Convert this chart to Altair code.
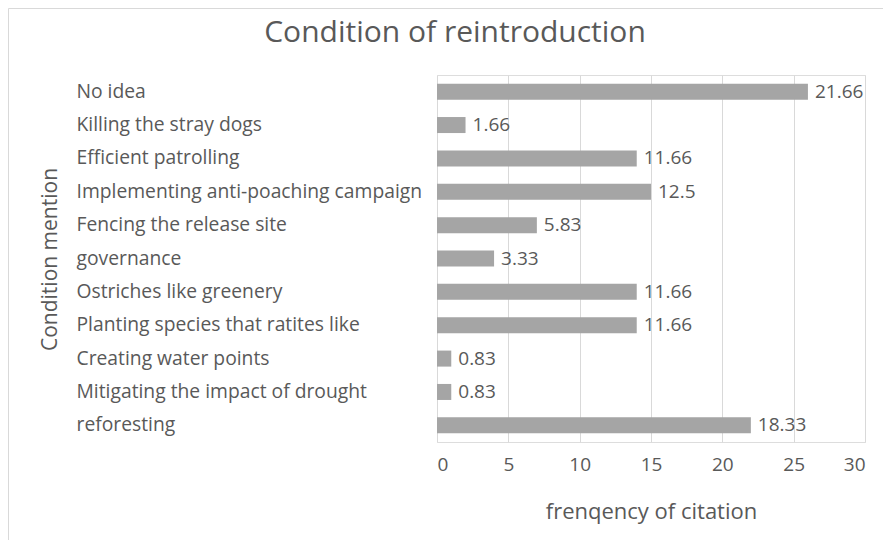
import altair as alt
import pandas as pd

categories = [
    "No idea",
    "Killing the stray dogs",
    "Efficient patrolling",
    "Implementing anti-poaching campaign",
    "Fencing the release site",
    "governance",
    "Ostriches like greenery",
    "Planting species that ratites like",
    "Creating water points",
    "Mitigating the impact of drought",
    "reforesting",
]
counts = [26, 2, 14, 15, 7, 4, 14, 14, 1, 1, 22]
labels = ["21.66", "1.66", "11.66", "12.5", "5.83", "3.33", "11.66", "11.66", "0.83", "0.83", "18.33"]
x_ticks = [0, 5, 10, 15, 20, 25, 30]

df = pd.DataFrame({"cat": categories, "count": counts, "label": labels})

FONT = "Open Sans"
GRAY = "#595959"
W, H = 428, 367
PL, PT, PR, PB = 429, 67, 18, 98

y_enc = alt.Y(
    "cat:N",
    sort=categories,
    scale=alt.Scale(paddingInner=0.52, paddingOuter=0.26),
    axis=alt.Axis(
        title="Condition mention",
        labelAlign="left",
        labelPadding=361,
        labelFont=FONT,
        labelFontSize=19.3,
        labelColor=GRAY,
        labelLimit=420,
        ticks=False,
        domain=False,
        titleFont=FONT,
        titleFontSize=21,
        titleFontWeight="normal",
        titleColor=GRAY,
        titleAngle=270,
        titleAlign="center",
        titleBaseline="middle",
        titleX=-387,
        titleY=184,
    ),
)

x_enc = alt.X(
    "count:Q",
    scale=alt.Scale(domain=[0, 30], nice=False),
    axis=alt.Axis(
        title="frenqency of citation",
        values=x_ticks,
        grid=True,
        gridColor="#d9d9d9",
        gridWidth=1,
        ticks=False,
        domain=False,
        labelPadding=13,
        labelFont=FONT,
        labelFontSize=19,
        labelColor=GRAY,
        titleFont=FONT,
        titleFontSize=22,
        titleFontWeight="normal",
        titleColor=GRAY,
        titleBaseline="middle",
        titleY=69,
    ),
)

bars = alt.Chart(df).mark_bar(color="#a5a5a5").encode(x=x_enc, y=y_enc)

text = alt.Chart(df).mark_text(
    align="left", baseline="middle", dx=7, font=FONT, fontSize=19, color=GRAY
).encode(x="count:Q", y=alt.Y("cat:N", sort=categories), text="label:N")

frame_src = pd.DataFrame({"a": [0]})
top_line = alt.Chart(frame_src).mark_rule(color="#d9d9d9", strokeWidth=1).encode(
    x=alt.value(-PL + 0.5),
    x2=alt.value(W + PR),
    y=alt.value(-PT + 0.5),
)
left_line = alt.Chart(frame_src).mark_rule(color="#d9d9d9", strokeWidth=1).encode(
    x=alt.value(-PL + 0.5),
    y=alt.value(-PT + 0.5),
    y2=alt.value(H + PB),
)

chart = (
    alt.layer(top_line, left_line, bars, text)
    .properties(
        width=W,
        height=H,
        padding={"left": PL, "top": PT, "right": PR, "bottom": PB},
        autosize=alt.AutoSizeParams(type="none"),
        title=alt.TitleParams(
            "Condition of reintroduction",
            font=FONT,
            fontSize=30,
            fontWeight="normal",
            color=GRAY,
            anchor="middle",
            baseline="middle",
            dx=-196,
            offset=0,
            dy=55,
        ),
    )
    .configure_view(stroke=None)
    .configure(background="white")
)

chart.save("out.html", embed_options={"renderer": "svg", "actions": False})
